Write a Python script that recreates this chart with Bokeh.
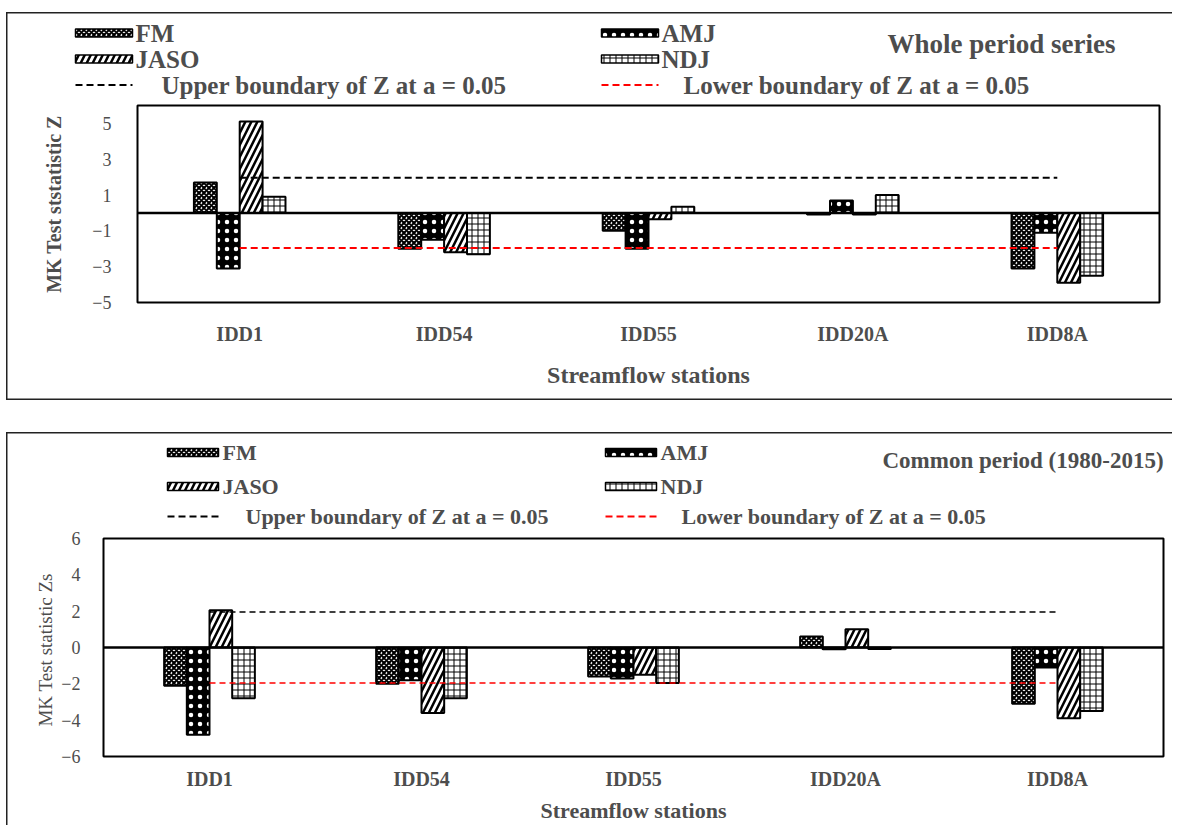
from bokeh.plotting import figure
from bokeh.models import Range1d, FixedTicker, FactorRange, Span, ColumnDataSource, Spacer
from bokeh.transform import dodge
from bokeh.embed import file_html
from bokeh.resources import INLINE
from bokeh.core.properties import value

# ---------------- data ----------------
stations = ["IDD1", "IDD54", "IDD55", "IDD20A", "IDD8A"]
seasons = ["FM", "AMJ", "JASO", "NDJ"]

whole_fm = [1.7, -2.0, -1.0, -0.08, -3.1]
whole_amj = [-3.1, -1.5, -2.0, 0.7, -1.1]
whole_jaso = [5.1, -2.2, -0.35, -0.08, -3.9]
whole_ndj = [0.9, -2.3, 0.35, 1.0, -3.5]

common_fm = [-2.1, -2.0, -1.6, 0.6, -3.1]
common_amj = [-4.8, -1.8, -1.7, -0.1, -1.1]
common_jaso = [2.05, -3.6, -1.5, 1.0, -3.9]
common_ndj = [-2.8, -2.8, -1.95, -0.08, -3.5]

upper_z = 1.96
lower_z = -1.96

whole_ticks = [-5, -3, -1, 1, 3, 5]
common_ticks = [-6, -4, -2, 0, 2, 4, 6]

# ---------------- styles ----------------
FONT_NAME = "Liberation Serif"
FONT = value(FONT_NAME)
GRAY = "#4d4d4d"
STYLE = {
    "FM": dict(fill_color="white", hatch_pattern="x", hatch_color="black", hatch_scale=5, hatch_weight=2),
    "AMJ": dict(fill_color="black", hatch_pattern=".", hatch_color="white", hatch_scale=9, hatch_weight=2),
    "JASO": dict(fill_color="white", hatch_pattern="/", hatch_color="black", hatch_scale=12, hatch_weight=2.5),
    "NDJ": dict(fill_color="white", hatch_pattern="+", hatch_color="black", hatch_scale=6, hatch_weight=1),
}
W = 1166
SH_LT = {"margin-left": "6px", "box-shadow": "inset 1.5px 1.5px 0 0 #222"}
SH_LB = {"margin-left": "6px", "box-shadow": "inset 1.5px -1.5px 0 0 #222"}
SH_L = {"margin-left": "6px", "box-shadow": "inset 1.5px 0 0 0 #222"}


def make_chart(vals, yr, ticks, ylabel, ylabel_style, ylabel_px, height, mb, bw, dash, dash_w,
               tick_standoff, axlabel_standoff, axlabel_px, y_tick_standoff, y_label_standoff, styles):
    p = figure(x_range=FactorRange(*stations), y_range=Range1d(*yr), width=W, height=height,
               output_backend="svg", toolbar_location=None, styles=styles,
               min_border_left=mb[0], min_border_right=mb[1], min_border_top=mb[2], min_border_bottom=mb[3])
    src = ColumnDataSource(dict(station=stations, **dict(zip(seasons, vals))))
    for i, s in enumerate(seasons):
        p.vbar(x=dodge("station", (i - 1.5) * bw, range=p.x_range), top=s, bottom=0, width=bw,
               source=src, line_color="black", line_width=2, **STYLE[s])
    p.line(x=[stations[0], stations[-1]], y=[upper_z, upper_z], line_color="black",
           line_dash=dash, line_width=dash_w)
    p.line(x=[stations[0], stations[-1]], y=[lower_z, lower_z], line_color="red",
           line_dash=dash, line_width=dash_w)
    p.add_layout(Span(location=0, dimension="width", line_color="black", line_width=2.5))
    p.grid.visible = False
    p.outline_line_color = "black"
    p.outline_line_width = 2
    p.outline_line_alpha = 1
    p.background_fill_color = "white"
    p.border_fill_color = None

    xa = p.xaxis[0]
    xa.axis_line_color = None
    xa.major_tick_line_color = None
    xa.minor_tick_line_color = None
    xa.major_label_text_font = FONT_NAME
    xa.major_label_text_font_style = "bold"
    xa.major_label_text_font_size = "20px"
    xa.major_label_text_color = GRAY
    xa.major_label_standoff = tick_standoff
    xa.axis_label = "Streamflow stations"
    xa.axis_label_text_font = FONT_NAME
    xa.axis_label_text_font_style = "bold"
    xa.axis_label_text_font_size = f"{axlabel_px}px"
    xa.axis_label_text_color = GRAY
    xa.axis_label_standoff = axlabel_standoff

    ya = p.yaxis[0]
    ya.ticker = FixedTicker(ticks=ticks)
    ya.axis_line_color = None
    ya.major_tick_line_color = None
    ya.minor_tick_line_color = None
    ya.major_label_text_font = FONT_NAME
    ya.major_label_text_font_size = "18px"
    ya.major_label_text_color = GRAY
    ya.major_label_standoff = y_tick_standoff
    ya.axis_label = ylabel
    ya.axis_label_text_font = FONT_NAME
    ya.axis_label_text_font_style = ylabel_style
    ya.axis_label_text_font_size = f"{ylabel_px}px"
    ya.axis_label_text_color = GRAY
    ya.axis_label_standoff = y_label_standoff
    return p


def make_legend(height, rows, col_x, sw_w, text_dx, line_dx, font_px,
                title, title_x, title_y, title_px, styles):
    L = figure(width=W, height=height, x_range=Range1d(0, W), y_range=Range1d(height, 0),
               output_backend="svg", toolbar_location=None, min_border=0, styles=styles,
               x_axis_type=None, y_axis_type=None, outline_line_color=None)
    L.grid.visible = False
    L.background_fill_color = None
    L.border_fill_color = None
    layout = [("FM", 0, 0), ("AMJ", 1, 0), ("JASO", 0, 1), ("NDJ", 1, 1)]
    for name, c, r in layout:
        x0 = col_x[c]
        y0 = rows[r]
        L.quad(left=[x0], right=[x0 + sw_w], top=[y0 - 4], bottom=[y0 + 4],
               line_color="black", line_width=1.5, **STYLE[name])
        L.text(x=[x0 + sw_w + text_dx], y=[y0], text=[name], text_font=FONT, text_font_style="bold",
               text_font_size=f"{font_px}px", text_color=GRAY, text_baseline="middle", text_align="left")
    yd = rows[2]
    L.line(x=[col_x[0], col_x[0] + sw_w], y=[yd, yd], line_color="black", line_width=2, line_dash="7 4")
    L.line(x=[col_x[1], col_x[1] + sw_w], y=[yd, yd], line_color="red", line_width=2, line_dash="7 4")
    L.text(x=[col_x[0] + line_dx[0]], y=[yd], text=["Upper boundary of Z  at a = 0.05"], text_font=FONT,
           text_font_style="bold", text_font_size=f"{font_px}px", text_color=GRAY,
           text_baseline="middle", text_align="left")
    L.text(x=[col_x[1] + line_dx[1]], y=[yd], text=["Lower  boundary of Z  at a = 0.05"], text_font=FONT,
           text_font_style="bold", text_font_size=f"{font_px}px", text_color=GRAY,
           text_baseline="middle", text_align="left")
    L.text(x=[title_x], y=[title_y], text=[title], text_font=FONT, text_font_style="bold",
           text_font_size=f"{title_px}px", text_color=GRAY, text_baseline="middle", text_align="left")
    return L


# ---------------- top panel ----------------
leg1 = make_legend(88, rows=[20.5, 46.5, 72.5], col_x=[69, 595], sw_w=57, text_dx=3,
                   line_dx=[86, 82], font_px=25, title="Whole  period series", title_x=881,
                   title_y=31, title_px=27, styles=SH_LT)
chart1 = make_chart([whole_fm, whole_amj, whole_jaso, whole_ndj], (-5, 6), whole_ticks,
                    "MK Test ststatistic Z", "bold", 20, 300, (131, 13, 5, 98), 0.112, "7 4", 2,
                    tick_standoff=14, axlabel_standoff=14, axlabel_px=24,
                    y_tick_standoff=20, y_label_standoff=24, styles=SH_LB)

# ---------------- bottom panel ----------------
leg2 = make_legend(98, rows=[20, 54, 84], col_x=[161, 599], sw_w=51, text_dx=4,
                   line_dx=[78, 76], font_px=22, title="Common period (1980-2015)", title_x=876,
                   title_y=28, title_px=23, styles=SH_LT)
chart2 = make_chart([common_fm, common_amj, common_jaso, common_ndj], (-6, 6), common_ticks,
                    "MK Test statistic  Zs", "normal", 19, 295, (97, 9, 8, 67), 0.107, "6 4", 1.5,
                    tick_standoff=5, axlabel_standoff=5, axlabel_px=22,
                    y_tick_standoff=17, y_label_standoff=2, styles=SH_L)

roots = [Spacer(height=12), leg1, chart1, Spacer(height=32), leg2, chart2]
open("out.html", "w").write(file_html(roots, INLINE))
